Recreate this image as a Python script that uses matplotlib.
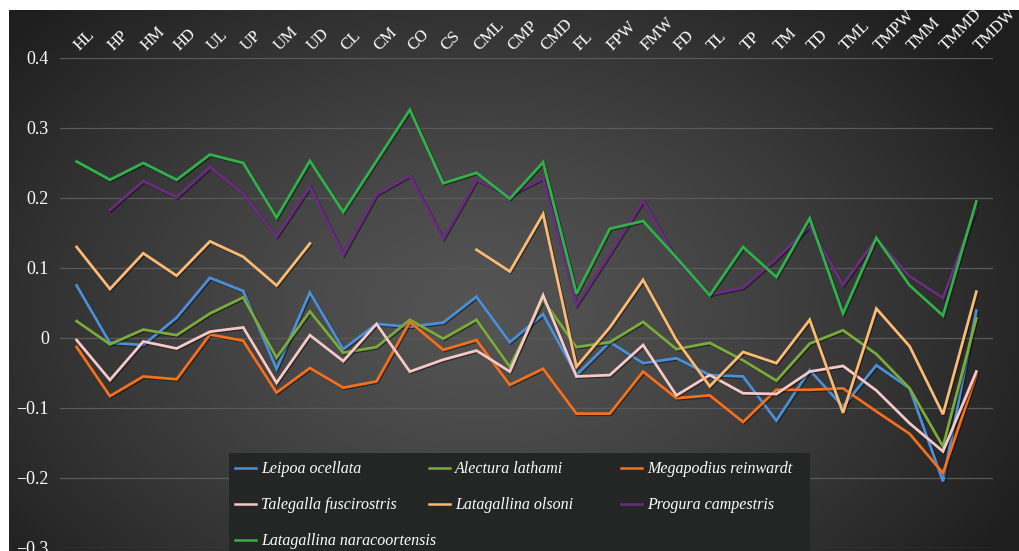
import numpy as np
import matplotlib
matplotlib.use("Agg")
import matplotlib.pyplot as plt
import matplotlib.patheffects as pe
from matplotlib.patches import Rectangle
from matplotlib.transforms import ScaledTranslation

nan = np.nan
categories = ["HL", "HP", "HM", "HD", "UL", "UP", "UM", "UD", "CL", "CM", "CO", "CS",
              "CML", "CMP", "CMD", "FL", "FPW", "FMW", "FD", "TL", "TP", "TM", "TD",
              "TML", "TMPW", "TMM", "TMMD", "TMDW"]

leipoa = [0.075, -0.007, -0.010, 0.029, 0.086, 0.067, -0.044, 0.065, -0.016, 0.020, 0.016, 0.022,
          0.059, -0.006, 0.034, -0.053, -0.006, -0.036, -0.029, -0.053, -0.055, -0.118, -0.046,
          -0.098, -0.039, -0.072, -0.205, 0.039]
alectura = [0.024, -0.009, 0.012, 0.004, 0.035, 0.058, -0.028, 0.038, -0.021, -0.013, 0.026, -0.001,
            0.026, -0.041, 0.055, -0.013, -0.006, 0.023, -0.016, -0.007, -0.032, -0.061, -0.008,
            0.011, -0.023, -0.072, -0.155, 0.028]
megapodius = [-0.013, -0.083, -0.055, -0.059, 0.005, -0.004, -0.078, -0.043, -0.071, -0.062, 0.023, -0.017,
              -0.003, -0.067, -0.044, -0.108, -0.108, -0.048, -0.086, -0.082, -0.120, -0.074, -0.074,
              -0.072, -0.105, -0.137, -0.193, -0.053]
talegalla = [-0.003, -0.060, -0.005, -0.015, 0.009, 0.015, -0.064, 0.004, -0.033, 0.020, -0.048, -0.031,
             -0.018, -0.048, 0.061, -0.055, -0.053, -0.010, -0.082, -0.053, -0.079, -0.080, -0.048,
             -0.040, -0.075, -0.122, -0.162, -0.048]
olsoni = [0.130, 0.070, 0.121, 0.089, 0.138, 0.116, 0.075, 0.135, nan, nan, nan, nan,
          0.126, 0.095, 0.177, -0.041, 0.015, 0.083, -0.003, -0.069, -0.020, -0.036, 0.026,
          -0.107, 0.042, -0.012, -0.109, 0.066]
progura = [nan, 0.183, 0.224, 0.201, 0.244, 0.206, 0.145, 0.216, 0.119, 0.205, 0.232, 0.142,
           0.226, 0.204, 0.228, 0.047, 0.120, 0.196, 0.112, 0.062, 0.072, 0.113, 0.160,
           0.076, 0.142, 0.088, 0.057, 0.185]
naracoortensis = [0.252, 0.226, 0.250, 0.226, 0.262, 0.250, 0.172, 0.253, 0.180, 0.253, 0.326, 0.221,
                  0.236, 0.199, 0.251, 0.063, 0.156, 0.167, 0.115, 0.061, 0.130, 0.087, 0.171,
                  0.035, 0.143, 0.075, 0.032, 0.195]

series = [
    ("Leipoa ocellata", leipoa, "#4a8fd8"),
    ("Alectura lathami", alectura, "#7bab3a"),
    ("Megapodius reinwardt", megapodius, "#f2701e"),
    ("Talegalla fuscirostris", talegalla, "#f7c9c6"),
    ("Latagallina olsoni", olsoni, "#fcbb72"),
    ("Progura campestris", progura, "#6a2c7e"),
    ("Latagallina naracoortensis", naracoortensis, "#31b14a"),
]
yticks = [-0.3, -0.2, -0.1, 0.0, 0.1, 0.2, 0.3, 0.4]
ytick_labels = ["\u22120.3", "\u22120.2", "\u22120.1", "0", "0.1", "0.2", "0.3", "0.4"]

W, H = 1019, 551
fig = plt.figure(figsize=(W / 100, H / 100), dpi=100, facecolor="white")

# background gradient panel
bg = fig.add_axes([9 / W, 0, 1 - 9 / W, 1 - 10 / H])
bg.set_axis_off()
yy, xx = np.mgrid[0:541, 0:1010]
cx, cy = 470, 300
d = np.sqrt(((xx - cx) / 620.0) ** 2 + ((yy - cy) / 430.0) ** 2)
d = np.clip(d, 0, 1)
val = (84 - (84 - 30) * d ** 1.3) / 255.0
img = np.dstack([val, val, val])
bg.imshow(img, aspect="auto", extent=[0, 1, 0, 1], interpolation="bilinear")
bg.set_xlim(0, 1)
bg.set_ylim(0, 1)

ax = fig.add_axes([60 / W, 1 - 548 / H, (993 - 60) / W, (548 - 58) / H])
ax.patch.set_alpha(0)
x = np.arange(len(categories))
shadow = [pe.SimpleLineShadow(offset=(0.8, -0.8), shadow_color="black", alpha=0.45), pe.Normal()]
handles = []
for name, vals, col in series:
    ln, = ax.plot(x, vals, color=col, lw=2.0, label=name, path_effects=shadow,
                  solid_joinstyle="miter")
    handles.append(ln)

ax.set_xlim(-0.5, len(categories) - 0.5)
ax.set_ylim(-0.3, 0.4)
ax.set_yticks(yticks)
ax.set_yticklabels(ytick_labels)
ax.grid(axis="y", color="#5a5a5a", lw=0.9)
ax.set_axisbelow(True)
for s in ax.spines.values():
    s.set_visible(False)

serif = "Liberation Serif"
ax.tick_params(axis="y", length=0, pad=8, labelcolor="white", labelsize=13)
for t in ax.get_yticklabels():
    t.set_fontfamily(serif)

ax.set_xticks(x)
ax.set_xticklabels(categories)
ax.tick_params(axis="x", bottom=False, labelbottom=False, top=False, labeltop=True,
               length=0, pad=3, labelcolor="white", labelsize=12)
offset = ScaledTranslation(6 / 100, 0, fig.dpi_scale_trans)
for t in ax.get_xticklabels():
    t.set_fontfamily(serif)
    t.set_rotation(45)
    t.set_ha("left")
    t.set_va("bottom")
    t.set_rotation_mode("anchor")
    t.set_transform(t.get_transform() + offset)

# legend box
fig.patches.append(Rectangle((229 / W, 0), (810 - 229) / W, 1 - 453 / H,
                             transform=fig.transFigure, facecolor="#242525",
                             edgecolor="none", zorder=5))
col_x = [229, 423, 615]
cols = [[0, 3, 6], [1, 4], [2, 5]]
for cxp, idxs in zip(col_x, cols):
    lg = fig.legend([handles[i] for i in idxs], [series[i][0] for i in idxs],
                    loc="upper left", bbox_to_anchor=(cxp / W, 1 - 455 / H),
                    frameon=False, handlelength=1.3, handletextpad=0.3,
                    labelspacing=1.25, borderaxespad=0, borderpad=0.4,
                    prop={"family": serif, "style": "italic", "size": 11.5},
                    labelcolor="white")
    lg.set_zorder(6)
    for h in lg.legend_handles:
        h.set_path_effects([])
        h.set_linewidth(1.8)

fig.savefig("out.png", dpi=100, facecolor="white")
